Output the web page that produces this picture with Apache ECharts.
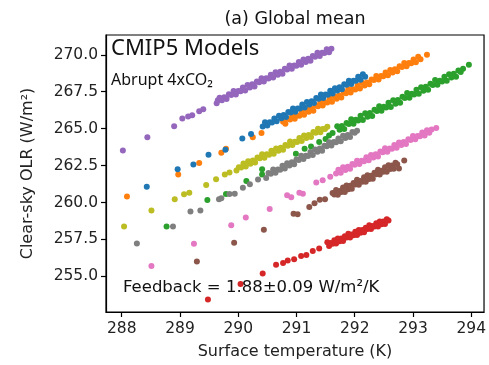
<!DOCTYPE html>
<html>
<head>
<meta charset="utf-8">
<script src="https://cdn.jsdelivr.net/npm/echarts@6/dist/echarts.min.js"></script>
<style>
  html, body { margin: 0; padding: 0; background: #fff; }
  #chart { width: 489px; height: 365px; }
</style>
</head>
<body>
<div id="chart"></div>
<script>
// Annual-mean pairs [surface temperature (K), clear-sky OLR (W/m2)] per model run
const purpleRun = [
  [288.02,263.52],[288.44,264.42],[288.90,265.16],[289.04,265.69],[289.14,265.83],[289.21,265.91],
  [289.33,266.18],[289.40,266.32],[289.63,266.72],[289.65,266.92],
  [289.68,267.09],[289.72,266.92],[289.76,267.13],[289.80,267.00],[289.84,267.33],[289.88,267.28],
  [289.92,267.55],[289.96,267.32],[290.00,267.55],[290.04,267.53],[290.08,267.79],[290.12,267.59],
  [290.16,267.95],[290.20,267.79],[290.24,268.00],[290.28,267.86],[290.32,268.19],[290.36,268.14],
  [290.40,268.42],[290.44,268.19],[290.48,268.41],[290.52,268.39],[290.56,268.65],[290.60,268.46],
  [290.64,268.82],[290.68,268.65],[290.72,268.86],[290.76,268.72],[290.80,269.06],[290.84,269.01],
  [290.88,269.28],[290.92,269.05],[290.96,269.27],[291.00,269.26],[291.04,269.52],[291.08,269.32],
  [291.12,269.68],[291.16,269.51],[291.20,269.73],[291.24,269.59],[291.28,269.92],[291.32,269.87],
  [291.36,270.14],[291.40,269.92],[291.44,270.14],[291.48,270.12],[291.52,270.38],[291.56,270.18],
  [291.60,270.41]
];
const orangeRun = [
  [288.09,260.40],[288.97,261.90],[289.33,262.68],[289.71,263.37],[289.79,263.64],[290.25,264.42],
  [290.40,264.71],
  [290.77,265.47],[290.81,265.33],[290.85,265.67],[290.89,265.62],[290.93,265.90],[290.97,265.67],
  [291.01,265.89],[291.05,265.88],[291.09,266.14],[291.13,265.95],[291.17,266.31],[291.21,266.14],
  [291.25,266.36],[291.29,266.22],[291.33,266.56],[291.37,266.51],[291.41,266.78],[291.45,266.56],
  [291.49,266.78],[291.53,266.77],[291.57,267.03],[291.61,266.83],[291.65,267.20],[291.69,267.03],
  [291.73,267.25],[291.77,267.11],[291.81,267.44],[291.85,267.40],[291.89,267.67],[291.93,267.45],
  [291.97,267.67],[292.01,267.65],[292.05,267.92],[292.09,267.72],[292.13,268.09],[292.17,267.92],
  [292.21,268.13],[292.25,268.00],[292.29,268.33],[292.33,268.29],[292.37,268.56],[292.41,268.33],
  [292.45,268.56],[292.49,268.54],[292.53,268.81],[292.57,268.61],[292.61,268.97],[292.65,268.81],
  [292.69,269.02],[292.73,268.89],[292.77,269.22],[292.81,269.17],[292.85,269.45],[292.89,269.22],
  [292.93,269.45],[292.97,269.43],[293.01,269.69],[293.05,269.50],[293.09,269.86],[293.13,269.70],
  [293.24,270.00]
];
const blueRun = [
  [288.43,261.07],[288.96,262.25],[289.23,262.57],[289.49,263.24],[289.78,263.57],[290.07,264.34],
  [290.22,264.64],
  [290.42,265.15],[290.46,265.43],[290.50,265.21],[290.54,265.43],[290.58,265.42],[290.62,265.69],
  [290.66,265.50],[290.70,265.87],[290.74,265.71],[290.78,265.92],[290.82,265.79],[290.86,266.13],
  [290.90,266.09],[290.94,266.37],[290.98,266.14],[291.02,266.37],[291.06,266.36],[291.10,266.63],
  [291.14,266.44],[291.18,266.81],[291.22,266.64],[291.26,266.86],[291.30,266.73],[291.34,267.07],
  [291.38,267.03],[291.42,267.31],[291.46,267.08],[291.50,267.31],[291.54,267.30],[291.58,267.57],
  [291.62,267.38],[291.66,267.74],[291.70,267.58],[291.74,267.80],[291.78,267.67],[291.82,268.01],
  [291.86,267.97],[291.90,268.24],[291.94,268.02],[291.98,268.25],[292.02,268.24],[292.06,268.51],
  [292.10,268.31],[292.14,268.68],[292.18,268.52]
];
const greenRun = [
  [288.77,258.37],[289.47,260.17],[289.79,260.58],[290.14,261.45],[290.41,262.25],[290.41,261.90],
  [290.99,263.30],[291.14,263.64],[291.25,263.80],[291.39,264.09],[291.50,264.30],[291.56,264.53],
  [291.62,264.70],
  [291.70,265.16],[291.74,264.92],[291.78,265.18],[291.82,264.98],[291.86,265.39],[291.90,265.31],
  [291.94,265.64],[291.98,265.33],[292.02,265.60],[292.06,265.55],[292.10,265.88],[292.14,265.59],
  [292.18,266.04],[292.22,265.81],[292.26,266.06],[292.30,265.86],[292.34,266.28],[292.38,266.19],
  [292.42,266.52],[292.46,266.21],[292.50,266.48],[292.54,266.44],[292.58,266.76],[292.62,266.47],
  [292.66,266.93],[292.70,266.69],[292.74,266.94],[292.78,266.75],[292.82,267.16],[292.86,267.07],
  [292.90,267.41],[292.94,267.09],[292.98,267.37],[293.02,267.32],[293.06,267.64],[293.10,267.36],
  [293.14,267.81],[293.18,267.57],[293.22,267.83],[293.26,267.63],[293.30,268.04],[293.34,267.96],
  [293.38,268.29],[293.42,267.97],[293.46,268.25],[293.50,268.20],[293.54,268.52],[293.58,268.24],
  [293.62,268.69],[293.66,268.46],[293.70,268.71],[293.74,268.51],[293.78,268.93],[293.82,268.84],
  [293.86,269.05],[293.96,269.33]
];
const oliveRun = [
  [288.04,258.37],[288.51,259.46],[288.91,260.22],[289.07,260.56],[289.16,260.67],[289.45,261.18],
  [289.62,261.58],[289.77,261.90],[289.85,262.03],
  [289.97,262.17],[290.01,262.39],[290.05,262.37],[290.09,262.64],[290.13,262.44],[290.17,262.80],
  [290.21,262.63],[290.25,262.84],[290.29,262.71],[290.33,263.04],[290.37,262.99],[290.41,263.26],
  [290.45,263.03],[290.49,263.26],[290.53,263.24],[290.57,263.50],[290.61,263.30],[290.65,263.66],
  [290.69,263.50],[290.73,263.71],[290.77,263.57],[290.81,263.90],[290.85,263.85],[290.89,264.13],
  [290.93,263.90],[290.97,264.12],[291.01,264.10],[291.05,264.36],[291.09,264.17],[291.13,264.53],
  [291.17,264.36],[291.21,264.57],[291.25,264.43],[291.29,264.77],[291.33,264.72],[291.37,264.99],
  [291.41,264.76],[291.45,264.98],[291.49,264.97],[291.53,265.13]
];
const grayRun = [
  [288.26,257.23],[288.88,258.37],[289.18,259.40],[289.35,259.46],[289.67,260.22],[289.71,260.29],
  [289.85,260.58],[289.94,260.60],[290.08,261.00],[290.20,261.23],[290.34,261.56],
  [290.48,261.66],[290.52,262.00],[290.56,261.95],[290.60,262.23],[290.64,262.01],[290.68,262.24],
  [290.72,262.22],[290.76,262.49],[290.80,262.30],[290.84,262.66],[290.88,262.50],[290.92,262.72],
  [290.96,262.59],[291.00,262.92],[291.04,262.88],[291.08,263.16],[291.12,262.94],[291.16,263.16],
  [291.20,263.15],[291.24,263.42],[291.28,263.22],[291.32,263.59],[291.36,263.43],[291.40,263.65],
  [291.44,263.51],[291.48,263.85],[291.52,263.81],[291.56,264.08],[291.60,263.86],[291.64,264.09],
  [291.68,264.08],[291.72,264.34],[291.76,264.15],[291.80,264.52],[291.84,264.36],[291.88,264.57],
  [291.92,264.44],[291.96,264.78],[292.00,264.73],[292.04,264.86]
];
const pinkRun = [
  [288.51,255.71],[289.24,257.21],[289.88,258.46],[290.13,258.98],[290.54,259.57],[290.84,260.49],
  [290.91,260.36],[291.05,260.66],[291.11,260.59],[291.34,261.36],[291.45,261.51],[291.58,261.74],
  [291.68,261.96],[291.72,262.22],[291.76,262.02],[291.80,262.38],[291.84,262.21],[291.88,262.42],
  [291.92,262.28],[291.96,262.61],[292.00,262.56],[292.04,262.83],[292.08,262.60],[292.12,262.82],
  [292.16,262.80],[292.20,263.06],[292.24,262.86],[292.28,263.22],[292.32,263.05],[292.36,263.26],
  [292.40,263.12],[292.44,263.45],[292.48,263.40],[292.52,263.67],[292.56,263.44],[292.60,263.66],
  [292.64,263.64],[292.68,263.90],[292.72,263.70],[292.76,264.06],[292.80,263.89],[292.84,264.10],
  [292.88,263.96],[292.92,264.29],[292.96,264.24],[293.00,264.51],[293.04,264.28],[293.08,264.50],
  [293.12,264.48],[293.16,264.74],[293.20,264.54],[293.24,264.90],[293.28,264.73],[293.32,264.94],
  [293.40,265.04]
];
const brownRun = [
  [289.29,256.00],[289.93,257.27],[290.44,258.16],[290.95,259.24],[291.02,259.20],[291.22,259.69],
  [291.31,259.95],[291.40,260.19],[291.49,260.22],
  [291.62,260.64],[291.65,260.54],[291.68,260.85],[291.71,260.52],[291.74,260.78],[291.77,260.72],
  [291.80,261.02],[291.83,260.72],[291.86,261.16],[291.89,260.90],[291.92,261.14],[291.95,260.93],
  [291.98,261.32],[292.01,261.22],[292.04,261.54],[292.07,261.21],[292.10,261.46],[292.13,261.40],
  [292.16,261.71],[292.19,261.40],[292.22,261.84],[292.25,261.59],[292.28,261.82],[292.31,261.61],
  [292.34,262.01],[292.37,261.91],[292.40,262.22],[292.43,261.89],[292.46,262.15],[292.49,262.08],
  [292.52,262.39],[292.55,262.09],[292.58,262.52],[292.61,262.27],[292.64,262.51],[292.67,262.29],
  [292.70,262.69],[292.73,262.59],[292.76,262.30],[292.85,262.85]
];
const redRun = [
  [289.48,253.44],[290.04,254.49],[290.42,255.20],[290.65,255.78],[290.77,255.90],[290.85,256.07],
  [290.96,256.16],[291.08,256.38],[291.17,256.45],[291.28,256.72],[291.39,256.89],
  [291.53,257.31],[291.56,257.06],[291.59,257.26],[291.62,257.21],[291.65,257.45],[291.68,257.23],
  [291.71,257.57],[291.74,257.38],[291.77,257.56],[291.80,257.40],[291.83,257.71],[291.86,257.64],
  [291.89,257.89],[291.92,257.63],[291.95,257.83],[291.98,257.79],[292.01,258.03],[292.04,257.81],
  [292.07,258.14],[292.10,257.95],[292.13,258.14],[292.16,257.98],[292.19,258.29],[292.22,258.21],
  [292.25,258.46],[292.28,258.21],[292.31,258.41],[292.34,258.37],[292.37,258.60],[292.40,258.38],
  [292.43,258.72],[292.46,258.53],[292.49,258.72],[292.52,258.55],[292.55,258.86],[292.58,258.79]
];

const xTicks = [288, 289, 290, 291, 292, 293, 294];
const yTicks = [255, 257.5, 260, 262.5, 265, 267.5, 270];

const runs = [
  { data: orangeRun, color: '#ff7f0e' },
  { data: blueRun,   color: '#1f77b4' },
  { data: greenRun,  color: '#2ca02c' },
  { data: redRun,    color: '#d62728' },
  { data: purpleRun, color: '#9467bd' },
  { data: brownRun,  color: '#8c564b' },
  { data: pinkRun,   color: '#e377c2' },
  { data: grayRun,   color: '#7f7f7f' },
  { data: oliveRun,  color: '#bcbd22' }
];

const FONT = 'DejaVu Sans';
const chart = echarts.init(document.getElementById('chart'), null, { renderer: 'canvas' });

chart.setOption({
  animation: false,
  backgroundColor: '#fff',
  textStyle: { fontFamily: FONT },
  grid: {
    left: 106, right: 4, top: 35, bottom: 50,
    show: true, borderColor: '#000', borderWidth: 1.2, backgroundColor: 'transparent'
  },
  xAxis: {
    type: 'value', min: 287.73, max: 294.22,
    name: 'Surface temperature (K)', nameLocation: 'middle', nameGap: 32,
    nameTextStyle: { fontFamily: FONT, fontSize: 16, color: '#222' },
    axisLine: { show: true, lineStyle: { color: '#000', width: 1.2 } },
    axisTick: { show: true, inside: false, length: 5, lineStyle: { color: '#000', width: 1.2 }, customValues: xTicks },
    axisLabel: { fontFamily: FONT, fontSize: 15.5, color: '#222', margin: 9, customValues: xTicks,
                 formatter: v => String(v) },
    splitLine: { show: false }
  },
  yAxis: {
    type: 'value', min: 252.59, max: 271.34,
    name: 'Clear-sky OLR (W/m²)', nameLocation: 'middle', nameGap: 70, nameRotate: 90,
    nameTextStyle: { fontFamily: FONT, fontSize: 16, color: '#222' },
    axisLine: { show: true, lineStyle: { color: '#000', width: 1.2 } },
    axisTick: { show: true, inside: false, length: 5, lineStyle: { color: '#000', width: 1.2 }, customValues: yTicks },
    axisLabel: { fontFamily: FONT, fontSize: 15.5, color: '#222', margin: 8, customValues: yTicks,
                 formatter: v => v.toFixed(1) },
    splitLine: { show: false }
  },
  graphic: [
    { type: 'text', x: 295, y: 19, z: 10,
      style: { text: '(a) Global mean', font: '17.5px "DejaVu Sans"', fill: '#111',
               textAlign: 'center', textVerticalAlign: 'middle' } },
    { type: 'text', x: 111, y: 49, z: 10,
      style: { text: 'CMIP5 Models', font: '22px "Noto Sans"', fill: '#111',
               textAlign: 'left', textVerticalAlign: 'middle' } },
    { type: 'text', x: 111, y: 80, z: 10,
      style: { text: 'Abrupt 4xCO₂', font: '16px "Noto Sans"', fill: '#111',
               textAlign: 'left', textVerticalAlign: 'middle' } },
    { type: 'text', x: 123, y: 288, z: 10,
      style: { text: 'Feedback = 1.88±0.09 W/m²/K', font: '16.5px "DejaVu Sans"', fill: '#111',
               textAlign: 'left', textVerticalAlign: 'middle' } }
  ],
  series: runs.map(r => ({
    type: 'scatter',
    data: r.data,
    symbol: 'circle',
    symbolSize: 6,
    itemStyle: { color: r.color, opacity: 1 },
    emphasis: { disabled: true }
  }))
});
</script>
</body>
</html>
